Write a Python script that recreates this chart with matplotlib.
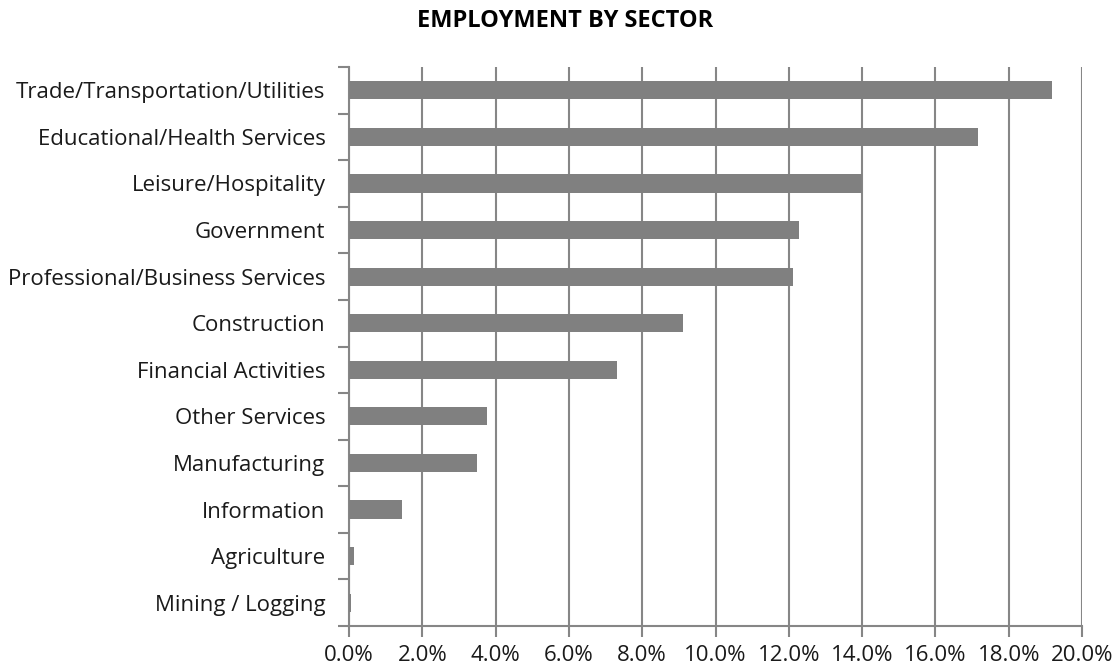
import matplotlib
matplotlib.use("Agg")
import matplotlib.pyplot as plt
from matplotlib.ticker import FixedLocator, FuncFormatter

categories = [
    "Trade/Transportation/Utilities",
    "Educational/Health Services",
    "Leisure/Hospitality",
    "Government",
    "Professional/Business Services",
    "Construction",
    "Financial Activities",
    "Other Services",
    "Manufacturing",
    "Information",
    "Agriculture",
    "Mining / Logging",
]
values = [19.18, 17.16, 14.0, 12.28, 12.12, 9.10, 7.32, 3.77, 3.49, 1.45, 0.14, 0.06]
xticks = [0, 2, 4, 6, 8, 10, 12, 14, 16, 18, 20]
title = "EMPLOYMENT BY SECTOR"

plt.rcParams['font.family'] = ['Open Sans', 'DejaVu Sans']

fig = plt.figure(figsize=(11.2, 6.71), dpi=100)
ax = fig.add_axes([349/1120, 1 - 626/671, (1082 - 349)/1120, (626 - 67)/671])

grid_color = "#868686"
ypos = list(range(len(categories)))
ax.barh(ypos, values, height=0.39, color="#808080", zorder=3)

ax.set_xlim(0, 20)
ax.set_ylim(len(categories) - 0.5, -0.5)

ax.set_xticks(xticks)
ax.xaxis.set_major_formatter(FuncFormatter(lambda v, p: f"{v:.1f}%"))
ax.tick_params(axis='x', length=8, width=1.5, color=grid_color, pad=6,
               labelsize=16, labelcolor="#1a1a1a")

ax.set_yticks(ypos)
ax.set_yticklabels(categories)
ax.yaxis.set_minor_locator(FixedLocator([i - 0.5 for i in range(len(categories) + 1)]))
ax.tick_params(axis='y', which='major', length=0, pad=17, labelsize=16, labelcolor="#1a1a1a")
ax.tick_params(axis='y', which='minor', length=8, width=1.5, color=grid_color)

ax.grid(axis='x', color=grid_color, linewidth=1.5, zorder=0)
ax.set_axisbelow(True)

for s in ['top', 'right']:
    ax.spines[s].set_visible(False)
for s in ['left', 'bottom']:
    ax.spines[s].set_color(grid_color)
    ax.spines[s].set_linewidth(1.5)

fig.text(0.505, 1 - 21/671, title, ha='center', va='center', fontsize=17,
         fontweight='bold', color="#000000")

fig.savefig("out.png", dpi=100, facecolor="white")
